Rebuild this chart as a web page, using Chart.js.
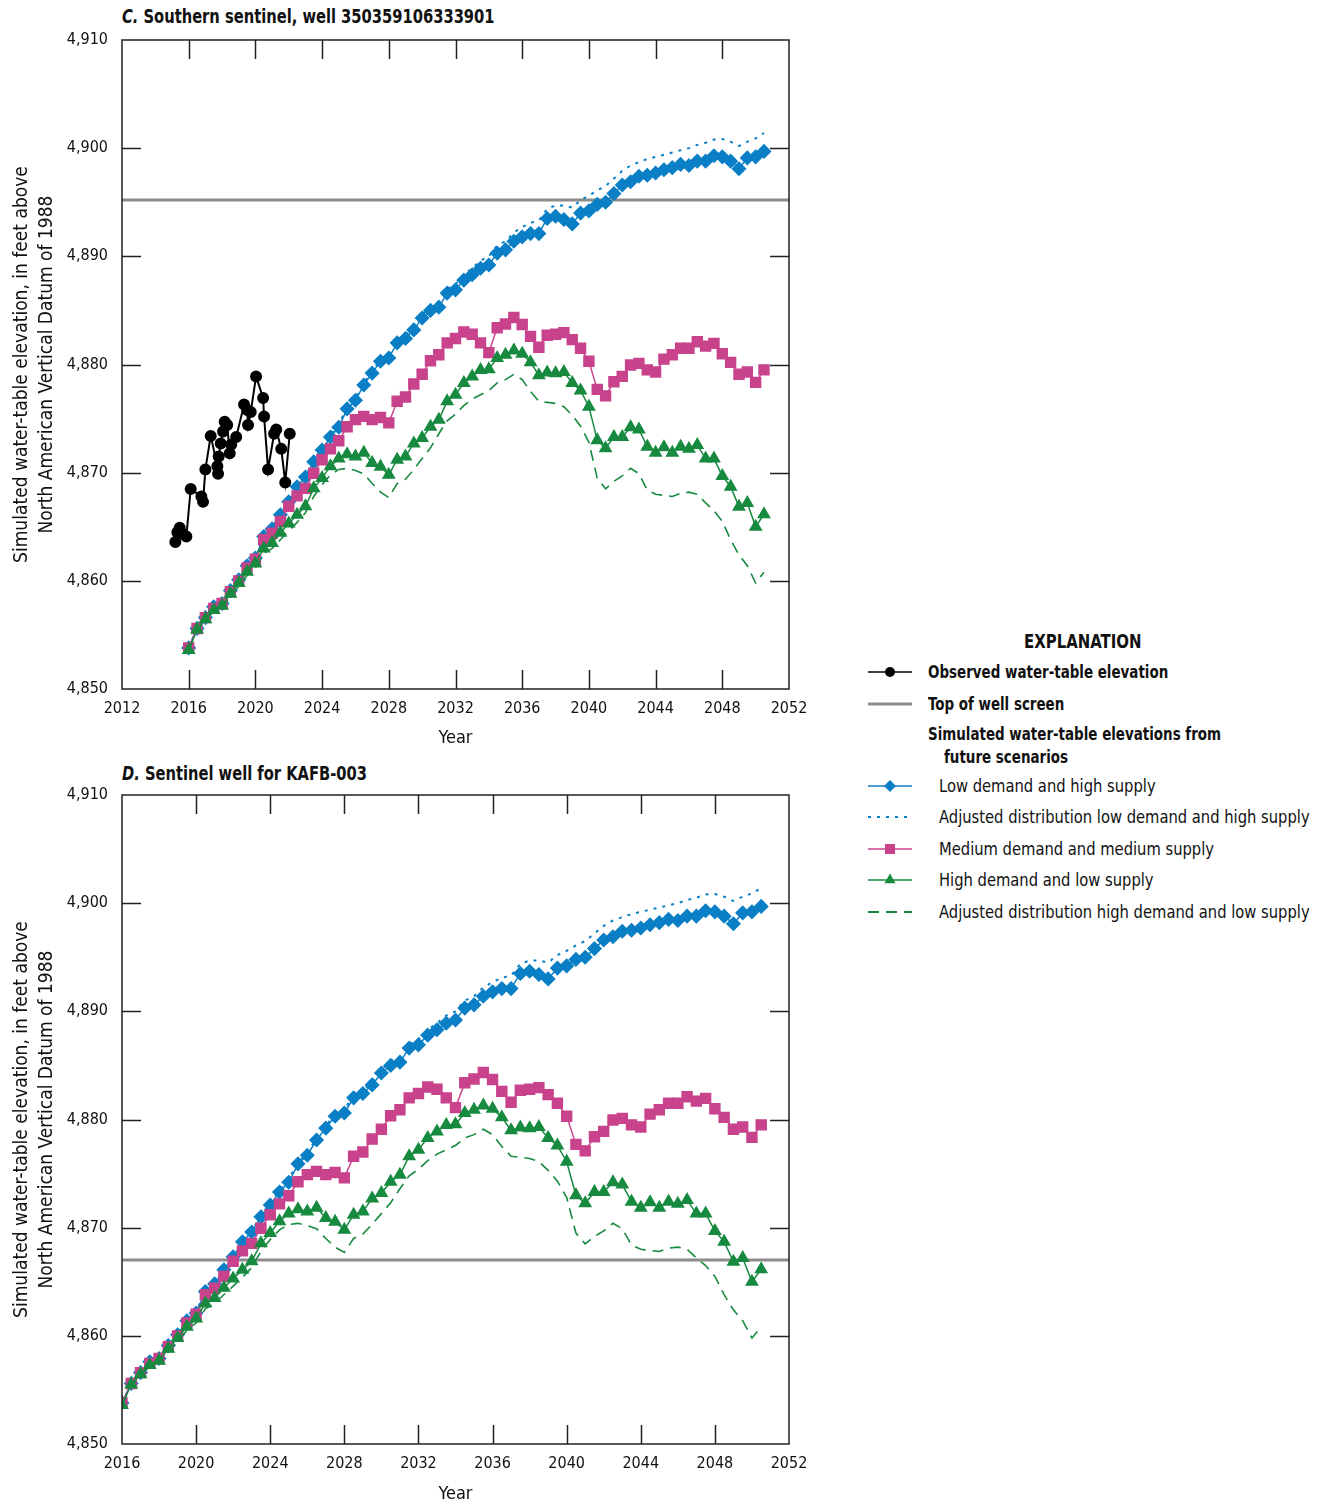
<!DOCTYPE html>
<html>
<head>
<meta charset="utf-8">
<script src="https://cdn.jsdelivr.net/npm/chart.js@4.4.0/dist/chart.umd.min.js"></script>
<style>
  body { margin: 0; background: #fff; }
  #page { position: relative; width: 1326px; height: 1507px; background: #fff; overflow: hidden;
          font-family: 'DejaVu Sans Condensed', 'Liberation Sans Narrow', sans-serif; color: #111; }
  canvas { position: absolute; left: 0; }
  .ptitle { position: absolute; left: 122px; font-weight: bold; font-size: 19px; line-height: 22px;
            white-space: nowrap; transform: scaleX(0.86); transform-origin: left center; }
  .leg { position: absolute; white-space: nowrap; font-size: 18px; line-height: 22px;
         transform: scaleX(0.91); transform-origin: left center; }
  .leg.b { font-weight: bold; transform: scaleX(0.83); }
  .sym { position: absolute; left: 866px; width: 48px; height: 20px; }
</style>
</head>
<body>
<div id="page">
  <div class="ptitle" style="top:5px"><i>C.</i> Southern sentinel, well 350359106333901</div>
  <canvas id="chartC" width="820" height="755" style="top:0"></canvas>
  <div class="ptitle" style="top:762px"><i>D.</i> Sentinel well for KAFB-003</div>
  <canvas id="chartD" width="820" height="752" style="top:755px"></canvas>

  <div class="leg b" style="left:1024px;top:630px;font-size:20px">EXPLANATION</div>
  <div id="legend"></div>
</div>

<script>
/* ── Data ─────────────────────────────────────────────────────── */
const simYears = [
  2016, 2016.5, 2017, 2017.5, 2018, 2018.5, 2019, 2019.5, 2020, 2020.5,
  2021, 2021.5, 2022, 2022.5, 2023, 2023.5, 2024, 2024.5, 2025, 2025.5,
  2026, 2026.5, 2027, 2027.5, 2028, 2028.5, 2029, 2029.5, 2030, 2030.5,
  2031, 2031.5, 2032, 2032.5, 2033, 2033.5, 2034, 2034.5, 2035, 2035.5,
  2036, 2036.5, 2037, 2037.5, 2038, 2038.5, 2039, 2039.5, 2040, 2040.5,
  2041, 2041.5, 2042, 2042.5, 2043, 2043.5, 2044, 2044.5, 2045, 2045.5,
  2046, 2046.5, 2047, 2047.5, 2048, 2048.5, 2049, 2049.5, 2050, 2050.5
];

// Low demand and high supply
const lowDemandHighSupply = [
  4853.8, 4855.6, 4856.6, 4857.6, 4857.9, 4859.1, 4860.1, 4861.4, 4862.1, 4864.1,
  4864.8, 4866.1, 4867.3, 4868.7, 4869.6, 4871.0, 4872.1, 4873.3, 4874.2, 4875.9,
  4876.7, 4878.1, 4879.2, 4880.3, 4880.6, 4882.0, 4882.4, 4883.2, 4884.3, 4885.0,
  4885.3, 4886.6, 4886.9, 4887.8, 4888.3, 4888.9, 4889.2, 4890.3, 4890.6, 4891.4,
  4891.8, 4892.1, 4892.1, 4893.5, 4893.7, 4893.4, 4893.0, 4894.0, 4894.2, 4894.8,
  4895.0, 4895.8, 4896.6, 4896.9, 4897.4, 4897.5, 4897.7, 4898.0, 4898.2, 4898.5,
  4898.4, 4898.8, 4898.8, 4899.3, 4899.2, 4898.8, 4898.1, 4899.1, 4899.2, 4899.7
];

// Adjusted distribution low demand and high supply
const adjLowDemandHighSupply = [
  4853.8, 4855.6, 4856.6, 4857.6, 4858.0, 4859.1, 4860.1, 4861.5, 4862.2, 4864.2,
  4864.9, 4866.2, 4867.4, 4868.8, 4869.7, 4871.1, 4872.3, 4873.5, 4874.5, 4876.0,
  4876.9, 4878.3, 4879.4, 4880.5, 4880.9, 4882.3, 4882.7, 4883.5, 4884.6, 4885.4,
  4885.8, 4887.0, 4887.4, 4888.3, 4888.9, 4889.6, 4890.0, 4891.0, 4891.4, 4892.2,
  4892.7, 4893.1, 4893.3, 4894.4, 4894.7, 4894.7, 4894.5, 4895.2, 4895.6, 4896.1,
  4896.5, 4897.2, 4897.9, 4898.4, 4898.7, 4899.0, 4899.2, 4899.4, 4899.6, 4899.8,
  4900.0, 4900.3, 4900.5, 4900.8, 4900.85, 4900.6, 4900.2, 4900.6, 4900.9, 4901.4
];

// Medium demand and medium supply
const medDemandMedSupply = [
  4853.8, 4855.6, 4856.6, 4857.45, 4857.9, 4859.0, 4860.0, 4861.2, 4862.0, 4863.8,
  4864.4, 4865.5, 4866.9, 4867.85, 4868.55, 4869.95, 4871.2, 4872.2, 4872.95, 4874.25,
  4874.9, 4875.2, 4874.9, 4875.1, 4874.6, 4876.6, 4877.0, 4878.2, 4879.1, 4880.35,
  4880.9, 4882.0, 4882.4, 4883.0, 4882.8, 4882.0, 4881.1, 4883.4, 4883.75, 4884.35,
  4883.7, 4882.6, 4881.6, 4882.7, 4882.8, 4882.95, 4882.3, 4881.5, 4880.3, 4877.7,
  4877.1, 4878.4, 4878.9, 4879.95, 4880.1, 4879.5, 4879.3, 4880.5, 4880.9, 4881.5,
  4881.5, 4882.1, 4881.7, 4881.95, 4881.0, 4880.2, 4879.1, 4879.3, 4878.35, 4879.5
];

// High demand and low supply
const highDemandLowSupply = [
  4853.6, 4855.5, 4856.45, 4857.3, 4857.7, 4858.8, 4859.8, 4860.85, 4861.6, 4863.0,
  4863.5, 4864.45, 4865.3, 4866.1, 4866.9, 4868.55, 4869.5, 4870.6, 4871.3, 4871.7,
  4871.5, 4871.85, 4870.9, 4870.55, 4869.8, 4871.2, 4871.5, 4872.7, 4873.2, 4874.25,
  4874.9, 4876.6, 4877.2, 4878.3, 4878.9, 4879.5, 4879.55, 4880.6, 4880.9, 4881.3,
  4881.0, 4880.2, 4879.0, 4879.25, 4879.2, 4879.3, 4878.3, 4877.6, 4876.1, 4873.0,
  4872.25, 4873.3, 4873.3, 4874.2, 4874.0, 4872.4, 4871.85, 4872.35, 4871.85, 4872.4,
  4872.2, 4872.55, 4871.3, 4871.3, 4869.7, 4868.7, 4866.85, 4867.2, 4865.0, 4866.15
];

// Adjusted distribution high demand and low supply
const adjHighDemandLowSupply = [
  4853.6, 4855.4, 4856.3, 4857.2, 4857.5, 4858.5, 4859.5, 4860.5, 4861.2, 4862.5,
  4863.0, 4863.8, 4864.6, 4865.4, 4866.3, 4867.8, 4868.9, 4869.8, 4870.3, 4870.4,
  4870.2, 4869.9, 4869.0, 4868.2, 4867.7, 4869.0, 4869.4, 4870.3, 4871.3, 4872.3,
  4873.6, 4874.8, 4875.4, 4876.2, 4876.8, 4877.2, 4877.6, 4878.3, 4878.6, 4879.1,
  4878.6, 4877.5, 4876.6, 4876.5, 4876.4, 4876.1, 4875.3, 4874.3, 4872.8, 4869.5,
  4868.5, 4869.2, 4869.7, 4870.4, 4869.9, 4868.4, 4868.0, 4867.9, 4867.8, 4868.1,
  4868.2, 4868.0, 4867.2, 4866.5, 4865.5, 4863.8, 4862.4, 4861.4, 4859.8, 4860.8
];

// Observed water-table elevation (panel C only)
const obsYears = [
  2015.20, 2015.32, 2015.46, 2015.57, 2015.86, 2016.12, 2016.76, 2016.86, 2017.00, 2017.32,
  2017.72, 2017.76, 2017.80, 2017.92, 2018.06, 2018.16, 2018.31, 2018.46, 2018.55, 2018.85,
  2019.32, 2019.51, 2019.56, 2019.72, 2020.04, 2020.46, 2020.52, 2020.76, 2021.12, 2021.25,
  2021.55, 2021.79, 2022.06
];
const obsValues = [
  4863.6, 4864.5, 4864.9, 4864.4, 4864.1, 4868.5, 4867.8, 4867.3, 4870.3, 4873.4,
  4870.6, 4869.9, 4871.5, 4872.7, 4873.8, 4874.7, 4874.4, 4871.8, 4872.6, 4873.3,
  4876.3, 4875.8, 4874.4, 4875.6, 4878.9, 4876.9, 4875.2, 4870.3, 4873.6, 4874.0,
  4872.2, 4869.1, 4873.6
];

// Top of well screen elevation
const screenC = 4895.2;
const screenD = 4867.0;

const xRangeC = [2012, 2052];
const xRangeD = [2016, 2052];
const yRange = [4850, 4910];

/* ── Styles ───────────────────────────────────────────────────── */
const FONT = "'DejaVu Sans Condensed', 'Liberation Sans Narrow', sans-serif";
const BLUE = '#0a7fc6';
const MAGENTA = '#c8428c';
const GREEN = '#178a40';
const GRAY = '#8c8c8c';

const pts = (xs, ys) => xs.map((x, i) => ({ x, y: ys[i] }));

/* ── Frame + inward ticks ─────────────────────────────────────── */
const framePlugin = {
    id: 'frame',
    afterDatasetsDraw(chart) {
        const { ctx, chartArea: a, scales: { x, y } } = chart;
        const len = 19;
        ctx.save();
        ctx.strokeStyle = '#222';
        ctx.lineWidth = 1.5;
        ctx.strokeRect(a.left, a.top, a.right - a.left, a.bottom - a.top);
        ctx.beginPath();
        x.ticks.forEach(t => {
            const px = Math.round(x.getPixelForValue(t.value)) + 0.5;
            if (px <= a.left + 1 || px >= a.right - 1) return;
            ctx.moveTo(px, a.bottom); ctx.lineTo(px, a.bottom - len);
            ctx.moveTo(px, a.top); ctx.lineTo(px, a.top + len);
        });
        y.ticks.forEach(t => {
            const py = Math.round(y.getPixelForValue(t.value)) + 0.5;
            if (py <= a.top + 1 || py >= a.bottom - 1) return;
            ctx.moveTo(a.left, py); ctx.lineTo(a.left + len, py);
            ctx.moveTo(a.right, py); ctx.lineTo(a.right - len, py);
        });
        ctx.stroke();
        ctx.restore();
    }
};

function makeChart(id, xRange, screen, withObserved, xAxisHeight, yearPad) {
    const datasets = [];
    if (withObserved) {
        datasets.push({ label: 'Observed water-table elevation', data: pts(obsYears, obsValues),
            borderColor: '#000', backgroundColor: '#000', borderWidth: 2,
            pointStyle: 'circle', pointRadius: 5 });
    }
    datasets.push(
        { label: 'High demand and low supply', data: pts(simYears, highDemandLowSupply),
          borderColor: GREEN, backgroundColor: GREEN, borderWidth: 1.5,
          pointStyle: 'triangle', pointRadius: 6.5 },
        { label: 'Adjusted distribution high demand and low supply', data: pts(simYears, adjHighDemandLowSupply),
          borderColor: GREEN, borderWidth: 1.6, borderDash: [11, 7], pointRadius: 0 },
        { label: 'Medium demand and medium supply', data: pts(simYears, medDemandMedSupply),
          borderColor: MAGENTA, backgroundColor: MAGENTA, borderWidth: 1.5,
          pointStyle: 'rect', pointRadius: 7 },
        { label: 'Adjusted distribution low demand and high supply', data: pts(simYears, adjLowDemandHighSupply),
          borderColor: BLUE, borderWidth: 2, borderDash: [3, 6], pointRadius: 0 },
        { label: 'Low demand and high supply', data: pts(simYears, lowDemandHighSupply),
          borderColor: BLUE, backgroundColor: BLUE, borderWidth: 1.5,
          pointStyle: 'rectRot', pointRadius: 6.5 },
        { label: 'Top of well screen', data: [{ x: xRange[0], y: screen }, { x: xRange[1], y: screen }],
          borderColor: GRAY, borderWidth: 3, pointRadius: 0 }
    );

    return new Chart(document.getElementById(id), {
        type: 'line',
        data: { datasets },
        options: {
            responsive: false, animation: false, devicePixelRatio: 1,
            layout: { padding: { top: 40, right: 31, left: 0, bottom: 0 } },
            plugins: { legend: { display: false }, tooltip: { enabled: false } },
            elements: { line: { tension: 0 } },
            scales: {
                x: {
                    type: 'linear', min: xRange[0], max: xRange[1],
                    grid: { display: false, drawTicks: false }, border: { display: false },
                    ticks: { stepSize: 4, autoSkip: false, maxRotation: 0, padding: 10,
                             color: '#111', font: { family: FONT, size: 16 }, callback: v => String(v) },
                    title: { display: true, text: 'Year', color: '#111', padding: { top: 0, bottom: yearPad },
                             font: { family: FONT, size: 18 } },
                    afterFit(scale) {
                        scale.height = xAxisHeight;
                        scale.paddingLeft = 0;
                        scale.paddingRight = 0;
                    }
                },
                y: {
                    min: yRange[0], max: yRange[1],
                    grid: { display: false, drawTicks: false }, border: { display: false },
                    ticks: { stepSize: 10, padding: 14, color: '#111', font: { family: FONT, size: 16 },
                             callback: v => v.toLocaleString('en-US') },
                    title: { display: true, color: '#111', padding: { top: 10, bottom: 0 },
                             text: ['Simulated water-table elevation, in feet above', 'North American Vertical Datum of 1988'],
                             font: { family: FONT, size: 19, lineHeight: 1.3 } },
                    afterFit(scale) {
                        scale.width = 122;
                        scale.paddingTop = 0;
                        scale.paddingBottom = 0;
                    }
                }
            }
        },
        plugins: [framePlugin]
    });
}

makeChart('chartC', xRangeC, screenC, true, 66, 6);
makeChart('chartD', xRangeD, screenD, false, 63, 2);

/* ── Explanation (legend) ─────────────────────────────────────── */
const legendRows = [
    { text: 'Observed water-table elevation', bold: true, y: 672, color: '#000', marker: 'circle' },
    { text: 'Top of well screen', bold: true, y: 704, color: GRAY, width: 3 },
    { text: 'Simulated water-table elevations from', bold: true, y: 734 },
    { text: 'future scenarios', bold: true, y: 757, indent: 16 },
    { text: 'Low demand and high supply', y: 786, color: BLUE, marker: 'diamond', indent: 11 },
    { text: 'Adjusted distribution low demand and high supply', y: 817, color: BLUE, dash: '3 6', width: 2, indent: 11 },
    { text: 'Medium demand and medium supply', y: 849, color: MAGENTA, marker: 'square', indent: 11 },
    { text: 'High demand and low supply', y: 880, color: GREEN, marker: 'triangle', indent: 11 },
    { text: 'Adjusted distribution high demand and low supply', y: 912, color: GREEN, dash: '11 7', width: 1.8, indent: 11 }
];

const legendEl = document.getElementById('legend');
legendRows.forEach(r => {
    const t = document.createElement('div');
    t.className = 'leg' + (r.bold ? ' b' : '');
    t.style.left = (928 + (r.indent || 0)) + 'px';
    t.style.top = (r.y - 11) + 'px';
    t.textContent = r.text;
    legendEl.appendChild(t);
    if (!r.color) return;
    let m = '';
    if (r.marker === 'circle') m = `<circle cx="24" cy="10" r="5" fill="${r.color}"/>`;
    if (r.marker === 'diamond') m = `<polygon points="24,4 30,10 24,16 18,10" fill="${r.color}"/>`;
    if (r.marker === 'square') m = `<rect x="19" y="5" width="10" height="10" fill="${r.color}"/>`;
    if (r.marker === 'triangle') m = `<polygon points="24,3.5 29.6,13.3 18.4,13.3" fill="${r.color}"/>`;
    const svg = `<svg class="sym" style="top:${r.y - 10}px" viewBox="0 0 48 20">
        <line x1="2" y1="10" x2="46" y2="10" stroke="${r.color}" stroke-width="${r.width || 1.6}"
              ${r.dash ? `stroke-dasharray="${r.dash}"` : ''}/>${m}</svg>`;
    legendEl.insertAdjacentHTML('beforeend', svg);
});
</script>
</body>
</html>
